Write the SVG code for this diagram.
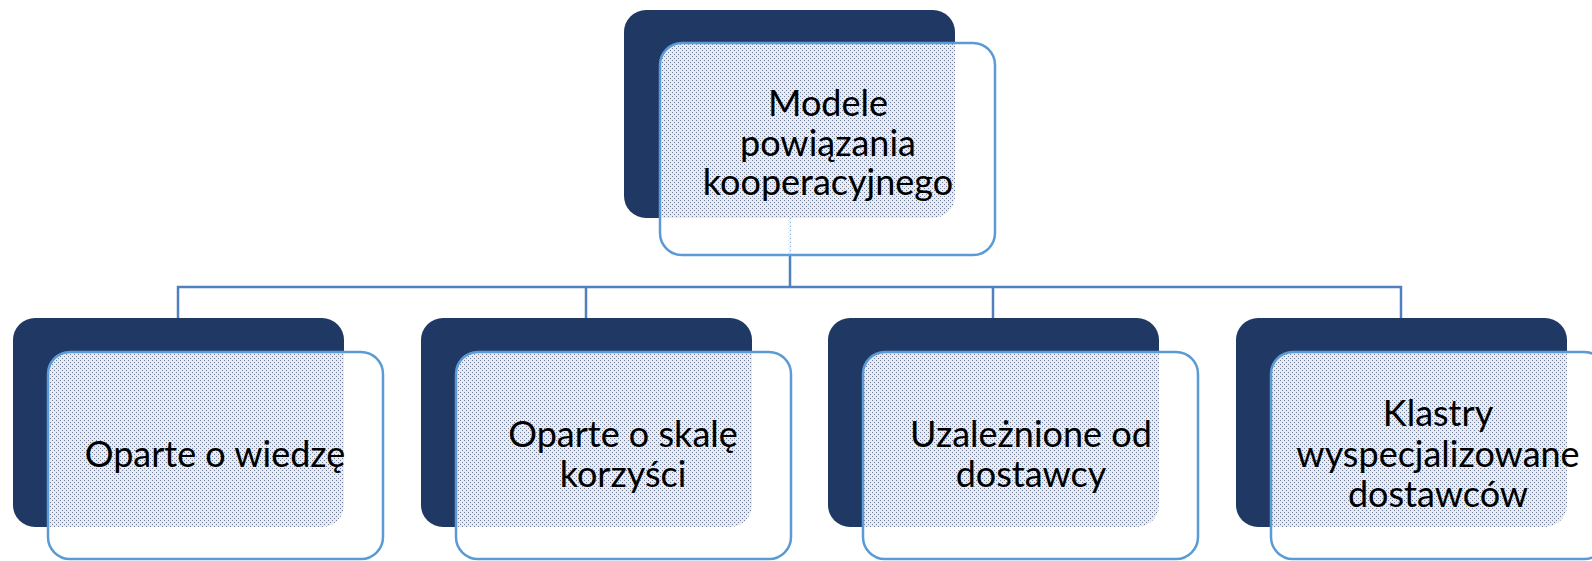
<svg xmlns="http://www.w3.org/2000/svg" width="1592" height="561" viewBox="0 0 1592 561">
<defs>
<pattern id="dots" x="0" y="0" width="4" height="4" patternUnits="userSpaceOnUse">
<path d="M0 0H4V4H0Z M0 0V1H1V0Z M2 2V3H3V2Z" fill="#ffffff" fill-opacity="0.9" fill-rule="evenodd"/>
<rect x="0" y="0" width="1" height="1" fill="#ffffff" fill-opacity="0.35"/>
<rect x="2" y="2" width="1" height="1" fill="#ffffff" fill-opacity="0.35"/>
</pattern>
<style>
.back{fill:#203864;}
.front{fill:url(#dots);stroke:#5b9bd5;stroke-width:2.5;}
.lbl{font-family:Lato,"Noto Sans","Liberation Sans",sans-serif;font-size:36px;fill:#000000;text-anchor:middle;}
.conn{fill:none;stroke:#4f81bd;stroke-width:2.5;}
</style>
</defs>
<rect width="1592" height="561" fill="#ffffff"/>
<g id="connectors">
<path class="conn" d="M790 218V287M178 318V287H1401V318M586 287V318M993 287V318"/>
</g>
<g id="node-top">
<rect class="back" x="624" y="10" width="331" height="208" rx="22"/>
<rect class="front" x="660" y="43" width="335" height="212" rx="22"/>
<text class="lbl" x="828" y="116">Modele</text>
<text class="lbl" x="828" y="156">powiązania</text>
<text class="lbl" x="828" y="195">kooperacyjnego</text>
</g>
<g id="node-1">
<rect class="back" x="13" y="318" width="331" height="209" rx="22"/>
<rect class="front" x="48" y="352" width="335" height="207" rx="22"/>
<text class="lbl" x="215" y="467">Oparte o wiedzę</text>
</g>
<g id="node-2">
<rect class="back" x="421" y="318" width="331" height="209" rx="22"/>
<rect class="front" x="456" y="352" width="335" height="207" rx="22"/>
<text class="lbl" x="623" y="447">Oparte o skalę</text>
<text class="lbl" x="623" y="487">korzyści</text>
</g>
<g id="node-3">
<rect class="back" x="828" y="318" width="331" height="209" rx="22"/>
<rect class="front" x="863" y="352" width="335" height="207" rx="22"/>
<text class="lbl" x="1031" y="447">Uzależnione od</text>
<text class="lbl" x="1031" y="487">dostawcy</text>
</g>
<g id="node-4">
<rect class="back" x="1236" y="318" width="331" height="209" rx="22"/>
<rect class="front" x="1271" y="352" width="335" height="207" rx="22"/>
<text class="lbl" x="1438" y="426">Klastry</text>
<text class="lbl" x="1438" y="467">wyspecjalizowane</text>
<text class="lbl" x="1438" y="507">dostawców</text>
</g>
</svg>
